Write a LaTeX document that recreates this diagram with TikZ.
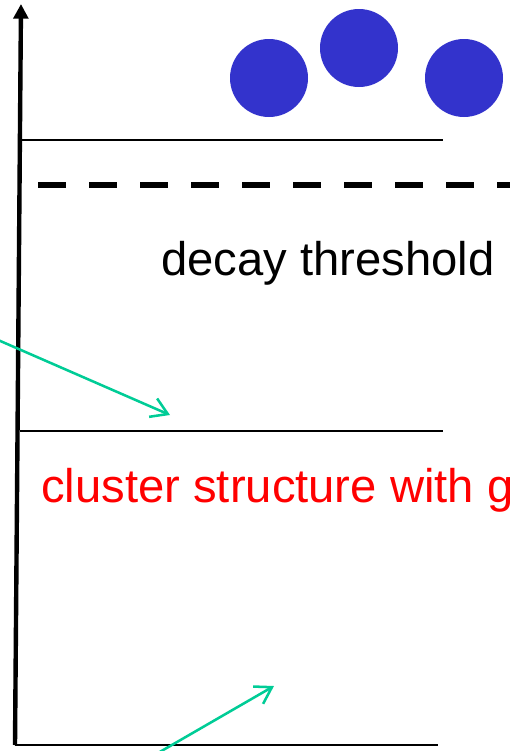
\documentclass[tikz,border=0pt]{standalone}
\usepackage{fontspec}
\setmainfont{Liberation Sans}
\usetikzlibrary{arrows.meta,positioning}
\definecolor{bc}{RGB}{51,51,204}
\definecolor{gc}{RGB}{0,204,150}
\tikzset{ball/.style={circle,fill=bc,inner sep=0pt,minimum size=58.5pt},
 lvl/.style={line width=1.1pt},axis/.style={line width=3.3pt,-{Triangle[length=11pt,width=11pt]}},
 thr/.style={line width=4.5pt,dash pattern=on 21pt off 17.25pt},
 ptr/.style={gc,line width=1.9pt,-{Straight Barb[length=12pt,width=15pt,line width=1.9pt]}},
 lab/.style={anchor=base west,inner sep=0pt,font=\fontsize{35.4}{41}\selectfont}}
\begin{document}
\begin{tikzpicture}[x=0.75pt,y=-0.75pt]
\clip (0,0) rectangle (510,751);
\coordinate (o) at (15,745); \coordinate (top) at (21,4);
\draw[axis] (o)--(top);
% levels
\coordinate (a1) at (21,140); \coordinate (a2) at (443,140);
\coordinate (b1) at (20,431); \coordinate (b2) at (443,431);
\coordinate (c2) at (438,745);
\draw[lvl] (a1)--(a2);
\draw[lvl] (b1)--(b2);
\draw[line width=1.5pt] (o)--(c2);
\coordinate (t1) at (38,185); \coordinate (t2) at (520,185);
\draw[thr] (t1)--(t2);
\node[ball] (n1) at (269,78) {};
\node[ball] (n2) at (359,48) {};
\node[ball] (n3) at (464,78) {};
\node[lab] (dt) at (161,275) {decay threshold};
\node[lab,text=red] (cs) at (41,502) {cluster structure with g};
% pointers
\coordinate (p1) at (-2,340); \coordinate (q1) at (170,415);
\coordinate (p2) at (158,753); \coordinate (q2) at (274,686);
\draw[ptr] (p1)--(q1);
\draw[ptr] (p2)--(q2);
\end{tikzpicture}
\end{document}
